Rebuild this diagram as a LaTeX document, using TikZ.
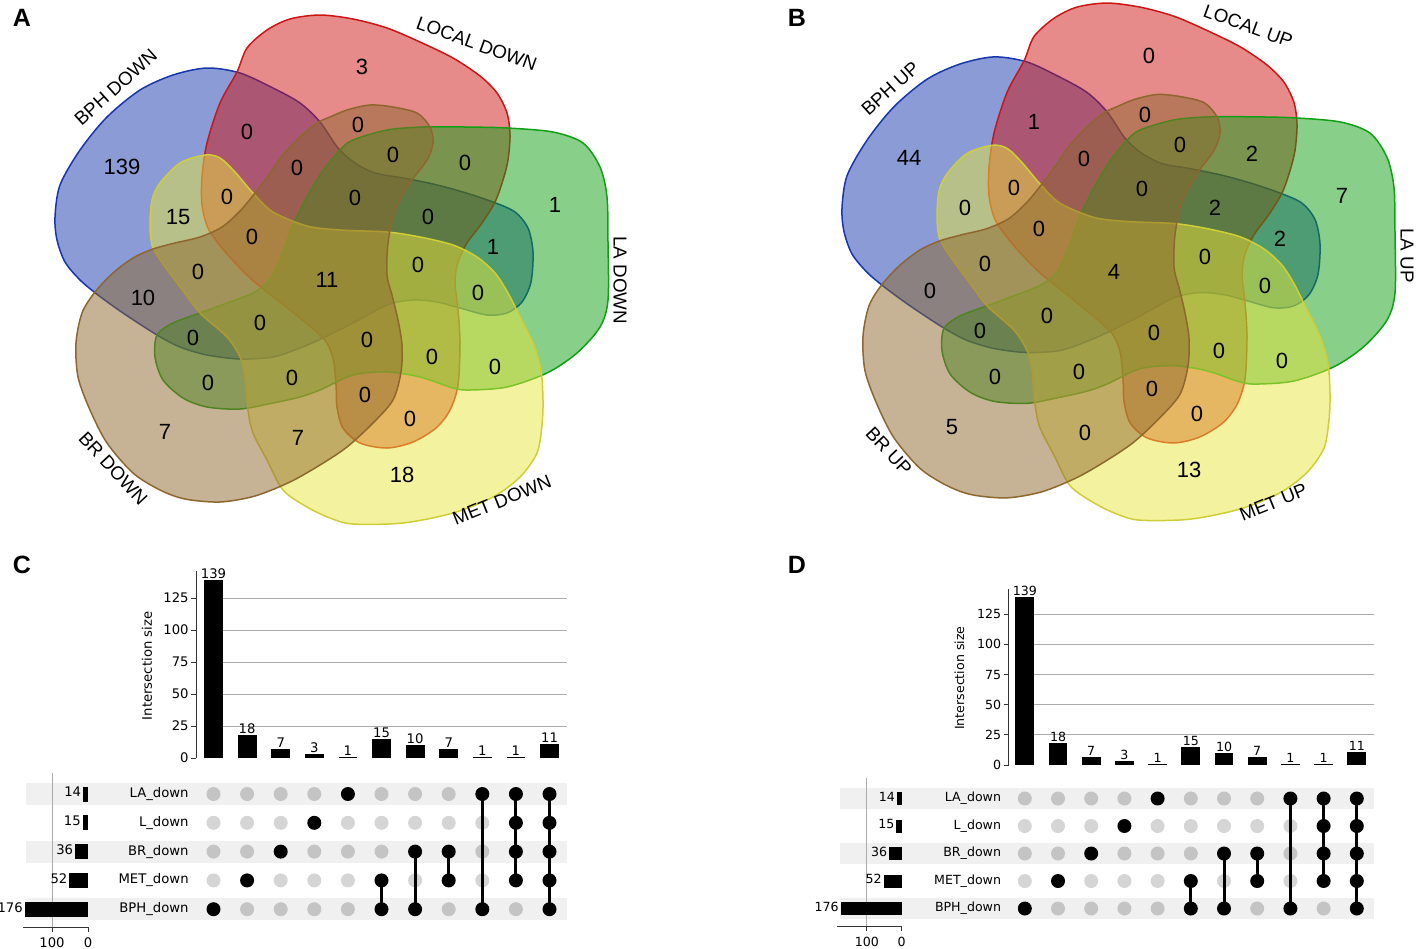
\documentclass[tikz,border=0pt]{standalone}
\usepackage{fontspec}
\setmainfont{Liberation Sans}
\newfontfamily\upfont{DejaVu Sans}
\definecolor{bphblue}{RGB}{21,55,173}
\definecolor{localred}{RGB}{205,21,21}
\definecolor{lagreen}{RGB}{17,159,21}
\definecolor{metyellow}{RGB}{231,229,61}
\definecolor{brbrown}{RGB}{141,103,45}
\definecolor{offdark}{RGB}{196,196,196}
\definecolor{offlight}{RGB}{213,213,213}
\tikzset{
    vennset/.style={line width=0.75pt, fill opacity=0.5},
    count/.style={inner sep=0pt, font=\fontsize{11}{11}\selectfont},
    setname/.style={inner sep=0pt, anchor=west, font=\fontsize{9.4}{10}\selectfont},
    panel/.style={inner sep=0pt, font=\fontsize{12.5}{13}\selectfont\bfseries},
    tick/.style={line width=0.5pt, black!80},
    grid/.style={line width=0.5pt, black!33},
    band/.style={fill=black!6},
    dot/.style={circle, inner sep=0pt, minimum size=7pt},
    link/.style={line width=1.5pt},
    small/.style={inner sep=0.5pt, font=\upfont\fontsize{\ufs}{\ufs}\selectfont}
}

% the five sets, drawn in the order BPH, LOCAL, LA, MET, BR
\newcommand\venndiagram{%
    \filldraw[vennset, fill=bphblue, draw=bphblue] plot[smooth cycle] coordinates {
        (207,68) (240,73) (273,88) (300,103) (320,122) (338,148) (355,163)
        (375,173) (403,178) (433,184) (463,192) (493,202) (515,212) (528,228)
        (533,252) (531,282) (522,302) (507,313) (487,315) (460,308) (437,302)
        (413,300) (387,305) (353,323) (323,338) (300,348) (273,357) (240,359)
        (207,355) (180,347) (157,335) (123,313) (98,295) (80,280) (65,262)
        (57,240) (55,217) (60,185) (80,150) (107,117) (140,90) (173,75)};
    \filldraw[vennset, fill=localred, draw=localred] plot[smooth cycle] coordinates {
        (237,72) (247,48) (267,30) (290,19) (320,15) (353,19) (387,28)
        (420,42) (453,58) (480,76) (497,93) (507,113) (510,135) (508,160)
        (503,180) (495,202) (482,223) (467,243) (458,262) (455,282) (458,310)
        (460,343) (458,385) (450,410) (436,428) (413,442) (387,448) (360,443)
        (343,428) (337,407) (336,385) (333,358) (323,338) (290,310) (257,284)
        (240,268) (222,248) (208,228) (202,205) (202,177) (207,143) (220,103)};
    \filldraw[vennset, fill=lagreen, draw=lagreen] plot[smooth cycle] coordinates {
        (340,150) (353,140) (387,130) (423,127) (465,127) (507,128) (553,132)
        (583,143) (600,167) (607,197) (608,243) (608,300) (600,327) (577,353)
        (547,373) (507,387) (470,390) (453,388) (420,377) (387,372) (353,375)
        (320,390) (300,397) (273,403) (240,409) (207,407) (183,398) (163,380)
        (155,357) (157,335) (173,323) (200,313) (227,303) (253,293) (270,280)
        (282,255) (293,225) (307,197) (322,172)};
    \filldraw[vennset, fill=metyellow, draw=metyellow!90!black] plot[smooth cycle] coordinates {
        (205,155) (220,158) (235,172) (253,193) (273,212) (307,226) (340,230)
        (387,232) (420,237) (453,245) (477,257) (495,273) (508,293) (520,317)
        (533,343) (541,370) (543,400) (542,425) (537,453) (520,477) (493,497)
        (453,513) (403,523) (353,524) (330,518) (307,507) (283,490) (267,460)
        (253,433) (248,410) (245,377) (240,357) (227,337) (200,313) (180,287)
        (160,260) (152,245) (150,225) (152,200) (160,183) (180,163)};
    \filldraw[vennset, fill=brbrown, draw=brbrown] plot[smooth cycle] coordinates {
        (330,117) (347,110) (370,105) (393,107) (417,113) (430,127) (433,143)
        (427,160) (410,183) (395,210) (388,243) (387,275) (392,295) (398,320)
        (402,345) (401,372) (393,400) (373,423) (347,447) (320,465) (290,482)
        (255,496) (220,502) (185,499) (160,490) (133,473) (107,443) (90,410)
        (78,377) (76,343) (82,313) (95,292) (113,273) (133,258) (153,249)
        (175,243) (200,237) (222,227) (240,211) (255,193) (268,176) (282,156)
        (300,137) (317,123)};
}

% upset chart, reads \uax, \ucx, ... set before the call
\newcommand\upsetplot[1]{%
    \foreach \row in {0,2,4}
        \fill[band] (\ubl,{\ury+\row*\urs-\urb}) rectangle (\uge,{\ury+\row*\urs+\urb});
    \foreach \tk in {25,50,...,125}
        \draw[grid] ({\ucx-9.4},{\uby-\tk*\ubu}) -- (\uge,{\uby-\tk*\ubu});
    \draw[tick] (\uax,\uby) -- (\uax,{\uby-146*\ubu});
    \foreach \tk in {0,25,...,125} {
        \draw[tick] ({\uax-5},{\uby-\tk*\ubu}) -- (\uax,{\uby-\tk*\ubu});
        \node[small, anchor=east] (#1-t\tk) at ({\uax-6},{\uby-\tk*\ubu}) {\tk};
    }
    \node[small, rotate=90] (#1-ylab) at (\uyl,{\uby-72*\ubu}) {Intersection size};
    % bars and membership dots, mask bit = row (LA, L, BR, MET, BPH)
    \foreach \val/\mask/\hi/\lo [count=\c from 0] in {139/16/4/4, 18/8/3/3,
            7/4/2/2, 3/2/1/1, 1/1/0/0, 15/24/3/4, 10/20/2/4, 7/12/2/3,
            1/17/0/4, 1/15/0/3, 11/31/0/4} {
        \pgfmathsetmacro\x{\ucx+\c*\ucs}
        \fill ({\x-9.4},\uby) rectangle ({\x+9.4},{\uby-\val*\ubu});
        \node[small, anchor=south] (#1-v\c) at (\x,{\uby-\val*\ubu}) {\val};
        \foreach \row in {0,...,4} {
            \pgfmathtruncatemacro\on{mod(floor(\mask/2^\row),2)}
            \ifnum\on=1
                \node[dot, fill=black] (#1-\c-\row) at (\x,{\ury+\row*\urs}) {};
            \else\ifodd\row
                \node[dot, fill=offlight] (#1-\c-\row) at (\x,{\ury+\row*\urs}) {};
            \else
                \node[dot, fill=offdark] (#1-\c-\row) at (\x,{\ury+\row*\urs}) {};
            \fi\fi
        }
        \ifnum\hi<\lo \draw[link] (#1-\c-\hi.center) -- (#1-\c-\lo.center); \fi
    }
    % set sizes
    \draw[grid] ({\usx-100*\usu},{\ury-21}) -- ({\usx-100*\usu},\uay);
    \foreach \nm/\sz [count=\row from 0] in {LA/14, L/15, BR/36, MET/52, BPH/176} {
        \fill ({\usx-\sz*\usu},{\ury+\row*\urs-\ush}) rectangle (\usx,{\ury+\row*\urs+\ush});
        \node[small, anchor=east] (#1-s\row) at ({\usx-\sz*\usu-0.5},{\ury+\row*\urs-2}) {\sz};
        \node[small, anchor=east] (#1-n\row) at (\ulx,{\ury+\row*\urs}) {\nm\_down};
    }
    \draw[tick] ({\ubl-3},\uay) -- (\usx,\uay);
    \draw[tick] (\usx,\uay) -- (\usx,{\uay+5});
    \draw[tick] ({\usx-100*\usu},\uay) -- ({\usx-100*\usu},{\uay+5});
    \node[small] (#1-x0) at (\usx,{\uay+16}) {0};
    \node[small] (#1-x100) at ({\usx-100*\usu},{\uay+16}) {100};
}

\begin{document}
\begin{tikzpicture}[x=0.5pt, y=-0.5pt]
    \useasboundingbox (0,0) rectangle (1417,948);

    % A and B: five-set Venn diagrams
    \begin{scope}
        \venndiagram
    \end{scope}
    \begin{scope}[shift={(787,-12.2)}, yscale=1.016]
        \venndiagram
    \end{scope}
    \node[panel] (A) at (22,18) {A};
    \node[panel] (B) at (797,18) {B};

    \foreach \x/\y/\a/\b [count=\i] in {362/67/3/0, 358/125/0/0, 393/155/0/0,
            465/163/0/2, 555/205/1/7, 247/132/0/1, 122/167/139/44, 297/168/0/0,
            227/197/0/0, 178/217/15/0, 252/237/0/0, 198/272/0/0, 327/280/11/4,
            355/198/0/0, 428/217/0/2, 493/247/1/2, 418/265/0/0, 143/298/10/0,
            260/323/0/0, 193/338/0/0, 208/383/0/0, 292/378/0/0, 165/432/7/5,
            298/438/7/0, 478/293/0/0, 367/340/0/0, 432/357/0/0, 495/367/0/0,
            365/395/0/0, 410/419/0/0, 402/475/18/13} {
        \node[count] (A-r\i) at (\x,\y) {\a};
        \node[count] (B-r\i) at (\x+787,{\y*1.016-12.2}) {\b};
    }

    \node[setname, rotate=42] (A-bph) at (77,122) {BPH DOWN};
    \node[setname, rotate=-20] (A-local) at (417,22) {LOCAL DOWN};
    \node[setname, rotate=-90] (A-la) at (620,236) {LA DOWN};
    \node[setname, rotate=22] (A-met) at (453,520) {MET DOWN};
    \node[setname, rotate=-47] (A-br) at (82,435) {BR DOWN};

    \node[setname, rotate=42] (B-bph) at (864,112) {BPH UP};
    \node[setname, rotate=-20] (B-local) at (1204,10) {LOCAL UP};
    \node[setname, rotate=-90] (B-la) at (1407,228) {LA UP};
    \node[setname, rotate=22] (B-met) at (1240,516) {MET UP};
    \node[setname, rotate=-47] (B-br) at (869,430) {BR UP};

    % C and D: upset charts
    \node[panel] (C) at (22,565) {C};
    \node[panel] (D) at (797,565) {D};

    \def\uax{196}\def\ucx{213.5}\def\ucs{33.6}\def\uby{758}\def\ubu{1.28}
    \def\ury{794}\def\urs{28.8}\def\urb{11}\def\usx{88}\def\usu{0.36}
    \def\ush{7.5}\def\uge{566.5}\def\ubl{26}\def\ulx{190}\def\uyl{147}
    \def\uay{927}\def\ufs{6.6}
    \upsetplot{C}

    \def\uax{1008.6}\def\ucx{1024.8}\def\ucs{33.2}\def\uby{765}\def\ubu{1.206}
    \def\ury{798.5}\def\urs{27.5}\def\urb{10.7}\def\usx{901.6}\def\usu{0.347}
    \def\ush{6.5}\def\uge{1373.8}\def\ubl{840.4}\def\ulx{1002.4}\def\uyl{959.5}
    \def\uay{926}\def\ufs{6.3}
    \upsetplot{D}
\end{tikzpicture}
\end{document}
